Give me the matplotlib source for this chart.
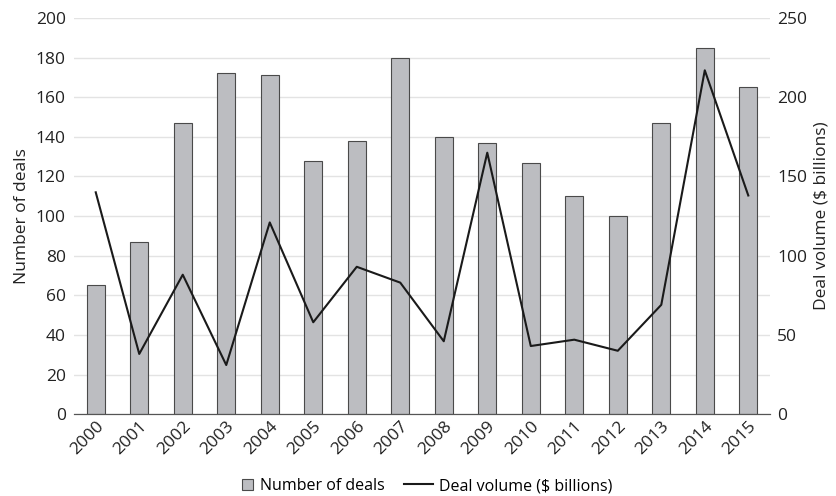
import matplotlib.pyplot as plt
import numpy as np
from matplotlib.legend_handler import HandlerPatch
from matplotlib.patches import Rectangle

plt.rcParams['font.family'] = ['Open Sans', 'DejaVu Sans']

years = [str(y) for y in range(2000, 2016)]
num_deals = [65, 87, 147, 172, 171, 128, 138, 180, 140, 137, 127, 110, 100, 147, 185, 165]
deal_volume = [140, 38, 88, 31, 121, 58, 93, 83, 46, 165, 43, 47, 40, 69, 217, 138]


class SquareHandler(HandlerPatch):
    # small square patch for the bar entry, like the original legend
    def create_artists(self, legend, orig_handle, xdescent, ydescent,
                       width, height, fontsize, trans):
        side = height * 1.05
        r = Rectangle((width - side - xdescent, (height - side) / 2 - ydescent),
                      side, side, facecolor=orig_handle.get_facecolor(),
                      edgecolor=orig_handle.get_edgecolor(), linewidth=0.8,
                      transform=trans)
        return [r]


fig = plt.figure(figsize=(8.37, 4.96), dpi=100)
ax = fig.add_axes([0.0884, 0.165, 0.8316, 0.7987])
ax2 = ax.twinx()

x = np.arange(len(years))
bars = ax.bar(x, num_deals, width=0.41, color="#bcbdc1", edgecolor="#4a4a4a",
              linewidth=0.8, label="Number of deals", zorder=2)
line, = ax2.plot(x, deal_volume, color="#1a1a1a", linewidth=1.5,
                 label="Deal volume ($ billions)")

ax.set_xlim(-0.5, len(years) - 0.5)
ax.set_ylim(0, 200)
ax.set_yticks(range(0, 201, 20))
ax2.set_ylim(0, 250)
ax2.set_yticks(range(0, 251, 50))

ax.grid(axis="y", color="#e3e3e3", linewidth=1, zorder=0)
ax.set_axisbelow(True)

fs = 12.5
for a in (ax, ax2):
    for s in ("top", "left", "right"):
        a.spines[s].set_visible(False)
    a.spines["bottom"].set_color("#555555")
    a.tick_params(axis="y", length=0, labelsize=fs, colors="#222222")

ax.tick_params(axis="y", pad=6)
ax2.tick_params(axis="y", pad=5)
ax.tick_params(axis="x", length=0, labelsize=fs, colors="#222222", pad=3)
ax.set_xticks(x)
ax.set_xticklabels(years, rotation=45, ha="right", rotation_mode="anchor")

ax.set_ylabel("Number of deals", fontsize=fs, color="#222222", labelpad=4)
ax2.set_ylabel("Deal volume ($ billions)", fontsize=fs, color="#222222", labelpad=5)

fig.legend([bars.patches[0], line], ["Number of deals", "Deal volume ($ billions)"],
           loc="lower center", bbox_to_anchor=(0.5, -0.025), ncol=2, frameon=False,
           fontsize=11.5, handlelength=1.8, handleheight=0.7, columnspacing=1.2,
           handletextpad=0.4, handler_map={Rectangle: SquareHandler()})

fig.savefig("out.png", dpi=100)
